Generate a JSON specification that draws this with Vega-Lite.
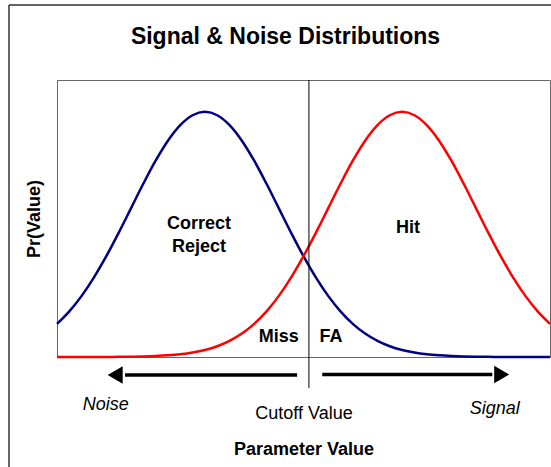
{
 "$schema": "https://vega.github.io/schema/vega-lite/v6.json",
 "width": 493,
 "height": 277,
 "autosize": "none",
 "padding": {"left": 57, "top": 80, "right": 1, "bottom": 110},
 "background": "white",
 "config": {"view": {"stroke": "#666666", "strokeWidth": 1}, "font": "Liberation Sans"},
 "title": {"text": "Signal & Noise Distributions", "fontSize": 23, "fontWeight": "bold", "font": "Liberation Sans", "color": "black", "anchor": "middle", "dx": -18, "offset": -45},
 "datasets": {
  "curves": [
   {"x": 0, "y": 0.1353, "series": "Noise"}, {"x": 2.5, "y": 0.1863, "series": "Noise"}, {"x": 5, "y": 0.2494, "series": "Noise"}, {"x": 7.5, "y": 0.3247, "series": "Noise"}, {"x": 10, "y": 0.4111, "series": "Noise"}, {"x": 12.5, "y": 0.5063, "series": "Noise"}, {"x": 15, "y": 0.6065, "series": "Noise"}, {"x": 17.5, "y": 0.7066, "series": "Noise"}, {"x": 20, "y": 0.8007, "series": "Noise"}, {"x": 22.5, "y": 0.8825, "series": "Noise"}, {"x": 25, "y": 0.946, "series": "Noise"}, {"x": 27.5, "y": 0.9862, "series": "Noise"}, {"x": 30, "y": 1.0, "series": "Noise"}, {"x": 32.5, "y": 0.9862, "series": "Noise"}, {"x": 35, "y": 0.946, "series": "Noise"}, {"x": 37.5, "y": 0.8825, "series": "Noise"}, {"x": 40, "y": 0.8007, "series": "Noise"}, {"x": 42.5, "y": 0.7066, "series": "Noise"}, {"x": 45, "y": 0.6065, "series": "Noise"}, {"x": 47.5, "y": 0.5063, "series": "Noise"}, {"x": 50, "y": 0.4111, "series": "Noise"}, {"x": 52.5, "y": 0.3247, "series": "Noise"}, {"x": 55, "y": 0.2494, "series": "Noise"}, {"x": 57.5, "y": 0.1863, "series": "Noise"}, {"x": 60, "y": 0.1353, "series": "Noise"}, {"x": 62.5, "y": 0.0956, "series": "Noise"}, {"x": 65, "y": 0.0657, "series": "Noise"}, {"x": 67.5, "y": 0.0439, "series": "Noise"}, {"x": 70, "y": 0.0286, "series": "Noise"}, {"x": 72.5, "y": 0.0181, "series": "Noise"}, {"x": 75, "y": 0.0111, "series": "Noise"}, {"x": 77.5, "y": 0.0067, "series": "Noise"}, {"x": 80, "y": 0.0039, "series": "Noise"}, {"x": 82.5, "y": 0.0022, "series": "Noise"}, {"x": 85, "y": 0.0012, "series": "Noise"}, {"x": 87.5, "y": 0.0006, "series": "Noise"}, {"x": 90, "y": 0.0003, "series": "Noise"}, {"x": 92.5, "y": 0.0002, "series": "Noise"}, {"x": 95, "y": 0.0001, "series": "Noise"}, {"x": 97.5, "y": 0.0, "series": "Noise"}, {"x": 100, "y": 0.0, "series": "Noise"},
   {"x": 0, "y": 0.0, "series": "Signal"}, {"x": 2.5, "y": 0.0, "series": "Signal"}, {"x": 5, "y": 0.0001, "series": "Signal"}, {"x": 7.5, "y": 0.0002, "series": "Signal"}, {"x": 10, "y": 0.0003, "series": "Signal"}, {"x": 12.5, "y": 0.0006, "series": "Signal"}, {"x": 15, "y": 0.0012, "series": "Signal"}, {"x": 17.5, "y": 0.0022, "series": "Signal"}, {"x": 20, "y": 0.0039, "series": "Signal"}, {"x": 22.5, "y": 0.0067, "series": "Signal"}, {"x": 25, "y": 0.0111, "series": "Signal"}, {"x": 27.5, "y": 0.0181, "series": "Signal"}, {"x": 30, "y": 0.0286, "series": "Signal"}, {"x": 32.5, "y": 0.0439, "series": "Signal"}, {"x": 35, "y": 0.0657, "series": "Signal"}, {"x": 37.5, "y": 0.0956, "series": "Signal"}, {"x": 40, "y": 0.1353, "series": "Signal"}, {"x": 42.5, "y": 0.1863, "series": "Signal"}, {"x": 45, "y": 0.2494, "series": "Signal"}, {"x": 47.5, "y": 0.3247, "series": "Signal"}, {"x": 50, "y": 0.4111, "series": "Signal"}, {"x": 52.5, "y": 0.5063, "series": "Signal"}, {"x": 55, "y": 0.6065, "series": "Signal"}, {"x": 57.5, "y": 0.7066, "series": "Signal"}, {"x": 60, "y": 0.8007, "series": "Signal"}, {"x": 62.5, "y": 0.8825, "series": "Signal"}, {"x": 65, "y": 0.946, "series": "Signal"}, {"x": 67.5, "y": 0.9862, "series": "Signal"}, {"x": 70, "y": 1.0, "series": "Signal"}, {"x": 72.5, "y": 0.9862, "series": "Signal"}, {"x": 75, "y": 0.946, "series": "Signal"}, {"x": 77.5, "y": 0.8825, "series": "Signal"}, {"x": 80, "y": 0.8007, "series": "Signal"}, {"x": 82.5, "y": 0.7066, "series": "Signal"}, {"x": 85, "y": 0.6065, "series": "Signal"}, {"x": 87.5, "y": 0.5063, "series": "Signal"}, {"x": 90, "y": 0.4111, "series": "Signal"}, {"x": 92.5, "y": 0.3247, "series": "Signal"}, {"x": 95, "y": 0.2494, "series": "Signal"}, {"x": 97.5, "y": 0.1863, "series": "Signal"}, {"x": 100, "y": 0.1353, "series": "Signal"}
  ],
  "frame": [
   {"x": -9.74, "y": -0.5, "x2": -9.74, "y2": 1.436},
   {"x": -9.74, "y": 1.436, "x2": 104, "y2": 1.436}
  ],
  "cutoff": [{"x": 51.1, "y": -0.1265, "y2": 1.13}],
  "arrows": [
   {"x": 13.8, "x2": 48.7, "y": -0.0734},
   {"x": 53.8, "x2": 88.3, "y": -0.0714}
  ],
  "heads": [
   {"x": 11.8, "y": -0.0734, "dir": "left"},
   {"x": 90.2, "y": -0.0714, "dir": "right"}
  ],
  "boldLabels": [
   {"x": 28.8, "y": 0.5425, "label": "Correct"},
   {"x": 28.8, "y": 0.4487, "label": "Reject"},
   {"x": 71.2, "y": 0.5262, "label": "Hit"},
   {"x": 45.0, "y": 0.0816, "label": "Miss"},
   {"x": 55.6, "y": 0.0816, "label": "FA"}
  ],
  "plainLabels": [{"x": 50.1, "y": -0.2325, "label": "Cutoff Value"}],
  "italicLabels": [
   {"x": 9.9, "y": -0.1958, "label": "Noise"},
   {"x": 88.8, "y": -0.2121, "label": "Signal"}
  ]
 },
 "encoding": {
  "x": {"field": "x", "type": "quantitative", "scale": {"domain": [0, 100], "nice": false, "zero": false},
        "axis": {"title": "Parameter Value", "labels": false, "ticks": false, "domain": false, "grid": false, "titleFontSize": 18, "titleFontWeight": "bold", "titleFont": "Liberation Sans", "titleColor": "black", "titlePadding": 83}},
  "y": {"field": "y", "type": "quantitative", "scale": {"domain": [0, 1.13], "nice": false, "zero": false},
        "axis": {"title": "Pr(Value)", "labels": false, "ticks": false, "domain": false, "grid": false, "titleFontSize": 18, "titleFontWeight": "bold", "titleFont": "Liberation Sans", "titleColor": "black", "titlePadding": 14}}
 },
 "layer": [
  {"data": {"name": "frame"}, "mark": {"type": "rule", "color": "#333333", "strokeWidth": 1.5, "clip": false},
   "encoding": {"x2": {"field": "x2"}, "y2": {"field": "y2"}}},
  {"data": {"name": "curves"}, "mark": {"type": "line", "strokeWidth": 2.5, "interpolate": "monotone"},
   "encoding": {"color": {"field": "series", "type": "nominal", "scale": {"domain": ["Noise", "Signal"], "range": ["#000080", "#ff0000"]}, "legend": null}}},
  {"data": {"name": "cutoff"}, "mark": {"type": "rule", "color": "black", "strokeWidth": 1, "clip": false},
   "encoding": {"y2": {"field": "y2"}}},
  {"data": {"name": "arrows"}, "mark": {"type": "rule", "color": "black", "strokeWidth": 3.5, "clip": false},
   "encoding": {"x2": {"field": "x2"}}},
  {"data": {"name": "heads"}, "mark": {"type": "point", "filled": true, "color": "black", "opacity": 1, "size": 300, "clip": false},
   "encoding": {"shape": {"field": "dir", "type": "nominal", "scale": {"domain": ["left", "right"], "range": ["triangle-left", "triangle-right"]}, "legend": null}}},
  {"data": {"name": "boldLabels"}, "mark": {"type": "text", "font": "Liberation Sans", "fontSize": 18, "fontWeight": "bold", "color": "black", "align": "center", "baseline": "middle", "clip": false},
   "encoding": {"text": {"field": "label"}}},
  {"data": {"name": "plainLabels"}, "mark": {"type": "text", "font": "Liberation Sans", "fontSize": 18, "color": "black", "align": "center", "baseline": "middle", "clip": false},
   "encoding": {"text": {"field": "label"}}},
  {"data": {"name": "italicLabels"}, "mark": {"type": "text", "font": "Liberation Sans", "fontSize": 18, "fontStyle": "italic", "color": "black", "align": "center", "baseline": "middle", "clip": false},
   "encoding": {"text": {"field": "label"}}}
 ]
}
